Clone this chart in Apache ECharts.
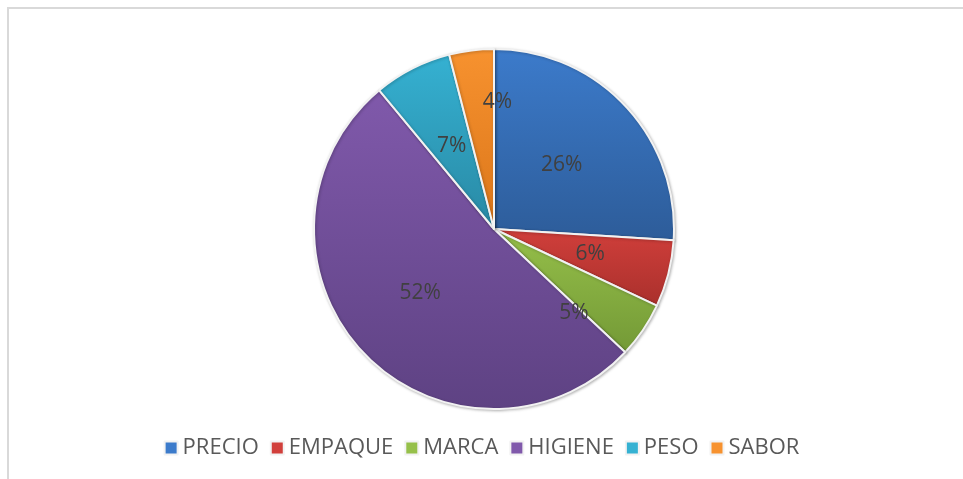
<!DOCTYPE html>
<html>
<head>
<meta charset="utf-8">
<script src="https://cdn.jsdelivr.net/npm/echarts@6/dist/echarts.min.js"></script>
<style>
  html, body { margin: 0; padding: 0; background: #fff; }
  .frame {
    position: absolute; left: 7px; top: 7px;
    width: 970px; height: 490px;
    border: 2px solid #d9d9d9;
  }
  #pie-chart { position: absolute; left: 0; top: 0; width: 963px; height: 479px; }
</style>
</head>
<body>
<div class="frame"></div>
<div id="pie-chart"></div>
<script>
  // categorias y porcentajes
  var categorias = ['PRECIO', 'EMPAQUE', 'MARCA', 'HIGIENE', 'PESO', 'SABOR']
  var valores = [26, 6, 5, 52, 7, 4]
  // colores tipo Excel (claro arriba, oscuro abajo)
  var coloresClaros = ['#3c7bcb', '#d13f3b', '#96c04a', '#8059ab', '#35b1d2', '#f7922f']
  var coloresOscuros = ['#2d5c99', '#a9302c', '#739936', '#5e4283', '#2989a4', '#db761a']

  function degradado(i) {
    return new echarts.graphic.LinearGradient(0, 0, 0, 1, [
      {offset: 0, color: coloresClaros[i]},
      {offset: 1, color: coloresOscuros[i]}
    ])
  }

  var datos = categorias.map(function (nombre, i) {
    return {value: valores[i], name: nombre, itemStyle: {color: degradado(i)}}
  })

  // ajustes de etiquetas como en Excel (MARCA y SABOR desplazadas)
  var desplaza = {2: [3, 32], 5: [15, -35], 1: [6, 2], 3: [-6, 0]}

  var option = {
    backgroundColor: 'transparent',
    animation: false,
    legend: {
      bottom: 15,
      left: 'center',
      itemWidth: 13,
      itemHeight: 13,
      itemGap: 11,
      icon: 'rect',
      textStyle: {
        color: '#595959',
        fontSize: 22,
        fontFamily: 'Open Sans, sans-serif'
      },
      data: categorias.map(function (n, i) {
        return {name: n, itemStyle: {color: coloresClaros[i]}}
      })
    },
    series: [
      {
        name: 'Factores',
        type: 'pie',
        center: [494, 229],
        radius: 180,
        startAngle: 90,
        clockwise: true,
        avoidLabelOverlap: false,
        itemStyle: {
          borderColor: '#f2f2f2',
          borderWidth: 2,
          shadowColor: 'rgba(0,0,0,0.25)',
          shadowBlur: 3,
          shadowOffsetX: 1,
          shadowOffsetY: 1
        },
        label: {
          show: true,
          position: 'inside',
          formatter: '{c}%',
          color: '#404040',
          fontSize: 21,
          fontFamily: 'Open Sans, sans-serif'
        },
        labelLine: {show: false},
        labelLayout: function (params) {
          var d = desplaza[params.dataIndex]
          return d ? {dx: d[0], dy: d[1]} : {}
        },
        emphasis: {disabled: true},
        data: datos
      }
    ]
  }

  var myChart = echarts.init(document.getElementById('pie-chart'))
  myChart.setOption(option)
</script>
</body>
</html>
